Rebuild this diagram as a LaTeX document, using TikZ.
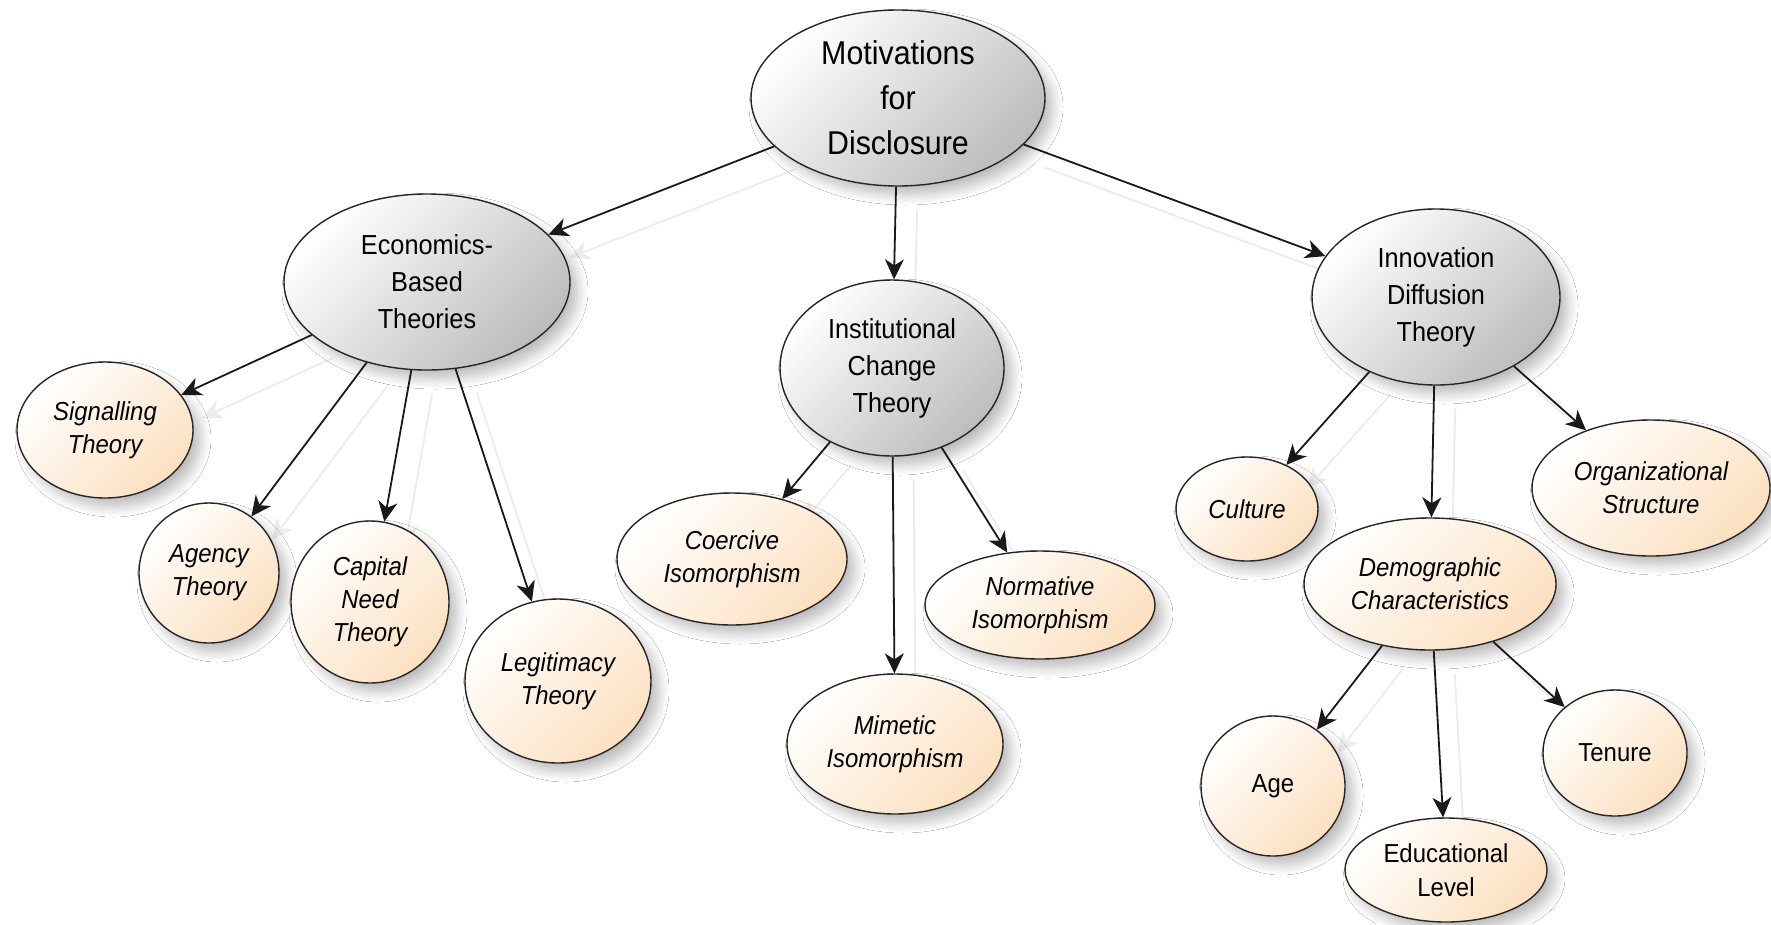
\documentclass[tikz,border=0pt]{standalone}
\usepackage{fontspec}
\usetikzlibrary{shapes.geometric,arrows.meta,shadows.blur}
\newfontfamily\narrowsans[FakeStretch=0.92]{Liberation Sans}
\definecolor{peach}{RGB}{252,224,192}
\definecolor{ghostgray}{RGB}{236,236,236}
\pgfdeclarelayer{ghost}
\pgfsetlayers{ghost,main}
\tikzset{
  x=1pt, y=-1pt,
  bubble/.style={ellipse, draw=black!85, line width=1.4pt, inner sep=0pt,
    blur shadow={shadow xshift=8pt, shadow yshift=-9pt, shadow blur radius=10pt,
      shadow blur steps=10, shadow opacity=26}},
  greybub/.style={bubble, top color=white, bottom color=black!26, shading angle=45},
  peachbub/.style={bubble, top color=white, bottom color=peach, shading angle=45},
  rootlbl/.style={align=center, inner sep=0pt,
    font=\narrowsans\fontsize{33}{45}\selectfont},
  midlbl/.style={align=center, inner sep=0pt,
    font=\narrowsans\fontsize{27.5}{37}\selectfont},
  leaflbl/.style={align=center, inner sep=0pt,
    font=\narrowsans\itshape\fontsize{26}{33}\selectfont},
  uplbl/.style={align=center, inner sep=0pt,
    font=\narrowsans\fontsize{26}{34}\selectfont},
  tip/.style={-{Stealth[length=20pt, width=19pt, inset=6pt]}},
  conn/.style={tip, line width=1.8pt, draw=black!90},
  ghostconn/.style={tip, line width=1.8pt, draw=ghostgray},
}
\begin{document}
\begin{tikzpicture}
\useasboundingbox (0,0) rectangle (1771,924);

% root
\node[greybub, minimum width=294pt, minimum height=176pt,
  label={[rootlbl, name=mot-t]center:{Motivations\\for\\Disclosure}}] (mot) at (898,98) {};

% second level
\node[greybub, minimum width=286pt, minimum height=176pt,
  label={[midlbl, name=econ-t]center:{Economics-\\Based\\Theories}}] (econ) at (427,282) {};
\node[greybub, minimum width=224pt, minimum height=176pt,
  label={[midlbl, name=inst-t]center:{Institutional\\Change\\Theory}}] (inst) at (892,368) {};
\node[greybub, minimum width=248pt, minimum height=176pt,
  label={[midlbl, name=innov-t]center:{Innovation\\Diffusion\\Theory}}] (innov) at (1436,297) {};

% economics-based theories
\node[peachbub, minimum width=176pt, minimum height=136pt,
  label={[leaflbl, name=sig-t]center:{Signalling\\Theory}}] (sig) at (105,430) {};
\node[peachbub, minimum width=140pt, minimum height=140pt,
  label={[leaflbl, name=agency-t]center:{Agency\\Theory}}] (agency) at (209,573) {};
\node[peachbub, minimum width=158pt, minimum height=162pt,
  label={[leaflbl, name=capital-t]center:{Capital\\Need\\Theory}}] (capital) at (370,602) {};
\node[peachbub, minimum width=186pt, minimum height=164pt,
  label={[leaflbl, name=legit-t]center:{Legitimacy\\Theory}}] (legit) at (558,681) {};

% institutional change theory
\node[peachbub, minimum width=230pt, minimum height=132pt,
  label={[leaflbl, name=coer-t]center:{Coercive\\Isomorphism}}] (coer) at (732,559) {};
\node[peachbub, minimum width=216pt, minimum height=140pt,
  label={[leaflbl, name=mim-t]center:{Mimetic\\Isomorphism}}] (mim) at (895,744) {};
\node[peachbub, minimum width=230pt, minimum height=108pt,
  label={[leaflbl, name=norm-t]center:{Normative\\Isomorphism}}] (norm) at (1040,605) {};

% innovation diffusion theory
\node[peachbub, minimum width=142pt, minimum height=104pt,
  label={[leaflbl, name=cult-t]center:{Culture}}] (cult) at (1247,509) {};
\node[peachbub, minimum width=252pt, minimum height=132pt,
  label={[leaflbl, name=demo-t]center:{Demographic\\Characteristics}}] (demo) at (1430,584) {};
\node[peachbub, minimum width=238pt, minimum height=136pt,
  label={[leaflbl, name=org-t]center:{Organizational\\Structure}}] (org) at (1651,488) {};

% demographic characteristics
\node[peachbub, minimum width=144pt, minimum height=140pt,
  label={[uplbl, name=age-t]center:{Age}}] (age) at (1273,786) {};
\node[peachbub, minimum width=202pt, minimum height=104pt,
  label={[uplbl, name=edu-t]center:{Educational\\Level}}] (edu) at (1446,870) {};
\node[peachbub, minimum width=144pt, minimum height=126pt,
  label={[uplbl, name=ten-t]center:{Tenure}}] (ten) at (1615,753) {};

% faint reflections of the connectors, behind everything
\begin{pgfonlayer}{ghost}
  \fill[white] (0,0) rectangle (1771,924);
  \begin{scope}[transform canvas={shift={(21pt,-23pt)}}]
    \foreach \a/\b in {mot/econ, mot/inst, mot/innov,
                       econ/sig, econ/agency, econ/capital, econ/legit,
                       inst/coer, inst/mim, inst/norm,
                       innov/cult, innov/demo, innov/org,
                       demo/age, demo/edu, demo/ten}
      \draw[ghostconn] (\a) -- (\b);
  \end{scope}
\end{pgfonlayer}

% connectors
\foreach \a/\b in {mot/econ, mot/inst, mot/innov,
                   econ/sig, econ/agency, econ/capital, econ/legit,
                   inst/coer, inst/mim, inst/norm,
                   innov/cult, innov/demo, innov/org,
                   demo/age, demo/edu, demo/ten}
  \draw[conn] (\a) -- (\b);
\end{tikzpicture}
\end{document}
